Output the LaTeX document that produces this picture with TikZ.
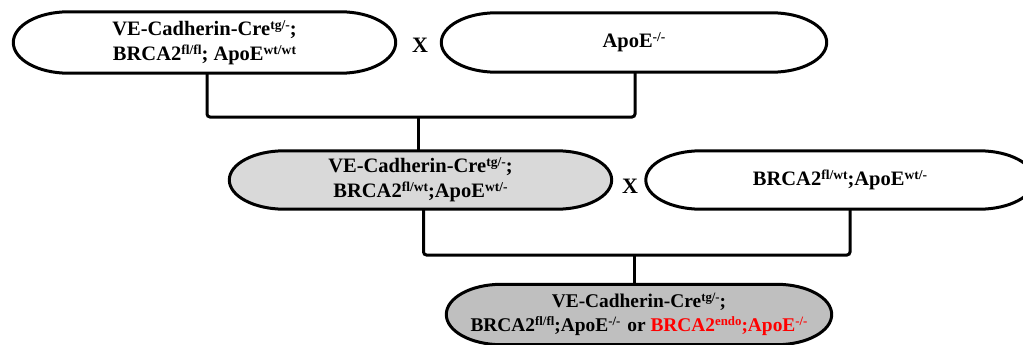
\documentclass[tikz,border=0pt]{standalone}
\usepackage{fontspec}
\setmainfont{Liberation Serif}
\usetikzlibrary{backgrounds,calc}
\definecolor{grayA}{HTML}{D9D9D9}
\definecolor{grayB}{HTML}{BFBFBF}
\definecolor{redtxt}{HTML}{FF0000}
\newcommand\Sp[1]{\raisebox{0.3em}{\fontsize{0.66em}{0.7em}\selectfont #1}}
\tikzset{
  capsule/.style={align=center, inner sep=0pt, font=\rmfamily\bfseries\fontsize{20.5}{25}\selectfont},
  smalltext/.style={font=\rmfamily\bfseries\fontsize{19.4}{24}\selectfont},
  capline/.style={line width=3pt},
  conn/.style={line width=3pt, rounded corners=3pt},
  cross/.style={font=\rmfamily\bfseries\fontsize{22}{25}\selectfont, inner sep=0pt}
}
\begin{document}
\begin{tikzpicture}[x=1pt,y=1pt]
\useasboundingbox (0,0) rectangle (1023,-345);
\node[capsule, minimum width=382pt, minimum height=61pt] (n1) at (204.5,-42.5)
  {VE-Cadherin-Cre\Sp{tg/-};\\BRCA2\Sp{fl/fl}; ApoE\Sp{wt/wt}};
\node[capsule, minimum width=385pt, minimum height=59pt] (n2) at (634,-42.5) {ApoE\Sp{-/-}};
\node[cross] (x1) at (420,-45) {X};
\node[capsule, minimum width=382pt, minimum height=58pt] (n3) at (420.5,-180)
  {VE-Cadherin-Cre\Sp{tg/-};\\BRCA2\Sp{fl/wt};ApoE\Sp{wt/-}};
\node[capsule, minimum width=388pt, minimum height=58pt] (n4) at (840,-180)
  {BRCA2\Sp{fl/wt};ApoE\Sp{wt/-}};
\node[cross] (x2) at (630,-186) {X};
\node[capsule, smalltext, minimum width=385pt, minimum height=60pt] (n5) at (639,-314.5)
  {VE-Cadherin-Cre\Sp{tg/-};\\BRCA2\Sp{fl/fl};ApoE\Sp{-/-}\hspace{7pt}or {\color{redtxt}BRCA2\Sp{endo};ApoE\Sp{-/-}}};
\begin{scope}[on background layer]
\foreach \nd/\f in {n1/white,n2/white,n3/grayA,n4/white,n5/grayB}{
  \draw[capline, fill=\f]
    let \p1=(\nd.north), \p2=(\nd.south), \n1={(\y1-\y2)/2} in
    ([xshift=55pt]\nd.north west) -- ([xshift=-55pt]\nd.north east)
    arc[start angle=90, end angle=-90, x radius=55pt, y radius=\n1]
    -- ([xshift=55pt]\nd.south west)
    arc[start angle=270, end angle=90, x radius=55pt, y radius=\n1] -- cycle;
}
\end{scope}
\coordinate (j1) at (418,-117);
\coordinate (j2) at (634,-255);
\draw[conn] ([xshift=2.5pt]n1.south) |- (j1) -| ([xshift=1pt]n2.south);
\draw[conn] (j1) -- (j1 |- n3.north);
\draw[conn] ([xshift=3pt]n3.south) |- (j2) -| ([xshift=10pt]n4.south);
\draw[conn] (j2) -- (j2 |- n5.north);
\end{tikzpicture}
\end{document}
